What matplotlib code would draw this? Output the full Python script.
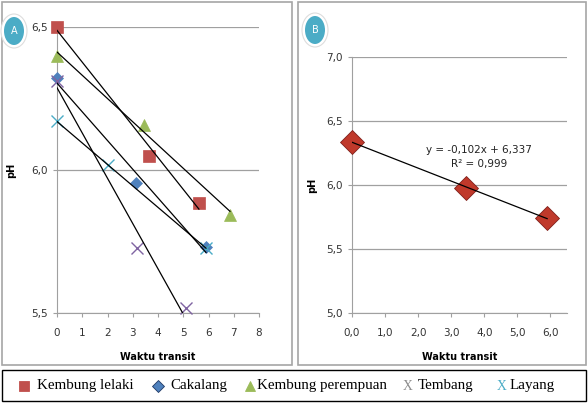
import numpy as np
import matplotlib.pyplot as plt
from matplotlib.patches import Rectangle, Ellipse
from matplotlib.lines import Line2D

# data panel A (Waktu transit, pH)
lelaki_x = [0, 3.64, 5.62]
lelaki_y = [6.50, 6.05, 5.885]
cakalang_x = [0, 3.13, 5.90]
cakalang_y = [6.32, 5.955, 5.73]
perempuan_x = [0, 3.45, 6.85]
perempuan_y = [6.40, 6.157, 5.843]
tembang_x = [0, 3.17, 5.10]
tembang_y = [6.31, 5.727, 5.517]
layang_x = [0, 2.02, 5.90]
layang_y = [6.17, 6.017, 5.727]

# data panel B
b_x = [0, 3.45, 5.90]
b_y = [6.336, 5.98, 5.74]

names = ['Kembung lelaki', 'Cakalang', 'Kembung perempuan', 'Tembang', 'Layang']

W, H = 588, 403
fig = plt.figure(figsize=(W / 100, H / 100), dpi=100)


def fx(px):
    return px / W


def fy(py):
    return 1 - py / H


# panel frames
for x0, x1 in [(2, 292), (298, 586)]:
    fig.patches.append(Rectangle((fx(x0), fy(365)), fx(x1 - x0), (365 - 2) / H,
                                 transform=fig.transFigure, fill=False,
                                 edgecolor='#A6A6A6', lw=1.2))
fig.patches.append(Rectangle((fx(2), fy(401)), fx(584), 31 / H,
                             transform=fig.transFigure, fill=False,
                             edgecolor='black', lw=1.0))

axA = fig.add_axes([fx(57), fy(313), fx(259 - 57), (313 - 27) / H])
axB = fig.add_axes([fx(352), fy(313), fx(567 - 352), (313 - 57) / H])

grid_c = '#A0A0A0'
for ax in (axA, axB):
    for s in ('top', 'right'):
        ax.spines[s].set_visible(False)
    for s in ('left', 'bottom'):
        ax.spines[s].set_color(grid_c)
    ax.tick_params(colors=grid_c, labelcolor='#333333', labelsize=7.5, length=3, width=0.8)
    ax.tick_params(axis='x', pad=8)
    ax.yaxis.grid(True, color=grid_c, lw=0.9)
    ax.set_axisbelow(True)
    ax.set_xlabel('Waktu transit', fontsize=7, fontweight='bold', labelpad=10)
    ax.set_ylabel('pH', fontsize=7, fontweight='bold')

# panel A
series = [
    (lelaki_x, lelaki_y, 's', '#C0504D', 8.5),
    (cakalang_x, cakalang_y, 'D', '#4F81BD', 6.5),
    (perempuan_x, perempuan_y, '^', '#9BBB59', 9),
    (tembang_x, tembang_y, 'x', '#8064A2', 8),
    (layang_x, layang_y, 'x', '#4BACC6', 8),
]
for xs, ys, m, c, ms in series:
    axA.plot(xs, ys, ls='none', marker=m, color=c, ms=ms, mew=1.0 if m == 'x' else 0.5,
             clip_on=False, zorder=3)
for xs, ys, m, c, ms in series:
    k, b = np.polyfit(xs, ys, 1)
    xx = np.array([min(xs), max(xs)])
    axA.plot(xx, k * xx + b, color='black', lw=0.9, zorder=4)

axA.set_xlim(0, 8)
axA.set_ylim(5.5, 6.5)
axA.set_xticks(range(0, 9))
axA.set_yticks([5.5, 6.0, 6.5])
axA.set_yticklabels(['5,5', '6,0', '6,5'])
axA.yaxis.set_label_coords(-0.2, 0.5)

# panel B
axB.plot(b_x, b_y, ls='none', marker='D', color='#C0392B', ms=12, mec='#7F1F1A',
         mew=0.6, zorder=3, clip_on=False)
k, b = np.polyfit(b_x, b_y, 1)
xx = np.array([min(b_x), max(b_x)])
axB.plot(xx, k * xx + b, color='black', lw=0.9, zorder=4)
axB.set_xlim(0, 6.5)
axB.set_ylim(5.0, 7.0)
xt = [0, 1, 2, 3, 4, 5, 6]
axB.set_xticks(xt)
axB.set_xticklabels([f'{v:.1f}'.replace('.', ',') for v in xt])
yt = [5.0, 5.5, 6.0, 6.5, 7.0]
axB.set_yticks(yt)
axB.set_yticklabels([f'{v:.1f}'.replace('.', ',') for v in yt])
axB.yaxis.set_label_coords(-0.16, 0.5)
axB.text(3.85, 6.27, 'y = -0,102x + 6,337', ha='center', va='center', fontsize=7.5, color='#222222')
axB.text(3.85, 6.165, 'R² = 0,999', ha='center', va='center', fontsize=7.5, color='#222222')

# badges
for cx, cy, lab in [(14, 31, 'A'), (315, 30, 'B')]:
    fig.patches.append(Ellipse((fx(cx), fy(cy)), 26 / W, 34 / H, transform=fig.transFigure,
                               facecolor='white', edgecolor='#DDDDDD', lw=0.8, zorder=5))
    fig.patches.append(Ellipse((fx(cx), fy(cy)), 20 / W, 28 / H, transform=fig.transFigure,
                               facecolor='#4BACC6', edgecolor='none', zorder=6))
    fig.text(fx(cx), fy(cy), lab, ha='center', va='center', color='white', fontsize=7, zorder=7)

# legend
ly = fy(386)
serif = 'Liberation Serif'
fs = 10.8
legend_items = [
    (24, 's', '#C0504D', 6.5, 37, names[0]),
    (158, 'D', '#4F81BD', 6, 170, names[1]),
    (250, '^', '#9BBB59', 7.5, 257, names[2]),
]
for mx, m, c, ms, tx, label in legend_items:
    fig.add_artist(Line2D([fx(mx)], [ly], marker=m, color=c, ms=ms, mec='#1F3864' if m == 'D' else c,
                          mew=0.6, transform=fig.transFigure))
    fig.text(fx(tx), ly, label, ha='left', va='center', fontsize=fs, family=serif)
fig.text(fx(403), ly, 'X', ha='left', va='center', fontsize=fs - 1, family=serif, color='#8C8C8C')
fig.text(fx(418), ly, names[3], ha='left', va='center', fontsize=fs, family=serif)
fig.text(fx(497), ly, 'X', ha='left', va='center', fontsize=fs - 1, family=serif, color='#4BACC6')
fig.text(fx(510), ly, names[4], ha='left', va='center', fontsize=fs, family=serif)

fig.savefig('out.png', dpi=100)
